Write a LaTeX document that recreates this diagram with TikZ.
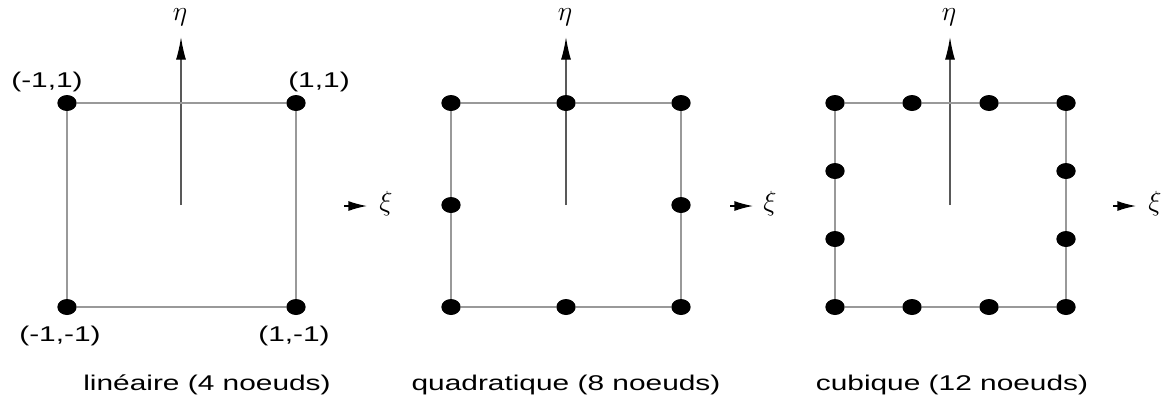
\documentclass[tikz,border=0pt]{standalone}
\usepackage{fontspec}
\setmainfont{Liberation Sans}[FakeStretch=1.4]
\usetikzlibrary{arrows.meta,shapes.geometric}

\begin{document}
\begin{tikzpicture}[x=0.75pt,y=-0.75pt,
  dot/.style={ellipse,fill=black,inner sep=0pt,minimum width=14.5pt,minimum height=12pt},
  edge/.style={gray!80!white,line width=1.8pt},
  axe/.style={gray!70!black,line width=1pt,-{Latex[length=17pt,width=7.5pt,black]}},
  xarr/.style={black,line width=1pt,-{Latex[length=14pt,width=7.5pt]}},
  lab/.style={font=\fontsize{16}{18}\selectfont},
  greek/.style={font=\fontsize{22}{24}\selectfont}]
 \useasboundingbox (0,0) rectangle (1166,400);

 % lineaire
 \coordinate (c1) at (181,205);
 \coordinate (t1) at (181,37);
 \draw[axe] (c1) -- (t1);
 \node[greek] (eta1) at (180,17) {$\eta$};
 \node[dot] (a1) at (67,307) {};
 \node[dot] (a2) at (296,307) {};
 \node[dot] (a3) at (296,103) {};
 \node[dot] (a4) at (67,103) {};
 \draw[edge] (a1) -- (a2) -- (a3) -- (a4) -- (a1);
 \coordinate (xa1) at (344,206);
 \coordinate (xb1) at (367,206);
 \draw[xarr] (xa1) -- (xb1);
 \node[greek] (xi1) at (386,204) {$\xi$};
 \node[lab] (n1) at (47,82) {(-1,1)};
 \node[lab] (n2) at (319,82) {(1,1)};
 \node[lab] (n3) at (60,336) {(-1,-1)};
 \node[lab] (n4) at (294,336) {(1,-1)};
 \node[lab] (cap1) at (207,385) {linéaire (4 noeuds)};

 % quadratique
 \coordinate (c2) at (566,205);
 \coordinate (t2) at (566,37);
 \draw[axe] (c2) -- (t2);
 \node[greek] (eta2) at (565,17) {$\eta$};
 \node[dot] (b1) at (451,307) {};
 \node[dot] (b2) at (566,307) {};
 \node[dot] (b3) at (681,307) {};
 \node[dot] (b4) at (681,205) {};
 \node[dot] (b5) at (681,103) {};
 \node[dot] (b6) at (566,103) {};
 \node[dot] (b7) at (451,103) {};
 \node[dot] (b8) at (451,205) {};
 \draw[edge] (b1) -- (b2) -- (b3) -- (b4) -- (b5) -- (b6) -- (b7) -- (b8) -- (b1);
 \coordinate (xa2) at (730,206);
 \coordinate (xb2) at (753,206);
 \draw[xarr] (xa2) -- (xb2);
 \node[greek] (xi2) at (770,204) {$\xi$};
 \node[lab] (cap2) at (566,385) {quadratique (8 noeuds)};

 % cubique
 \coordinate (c3) at (950,205);
 \coordinate (t3) at (950,37);
 \draw[axe] (c3) -- (t3);
 \node[greek] (eta3) at (949,17) {$\eta$};
 \node[dot] (d1) at (835,307) {};
 \node[dot] (d2) at (912,307) {};
 \node[dot] (d3) at (989,307) {};
 \node[dot] (d4) at (1066,307) {};
 \node[dot] (d5) at (1066,239) {};
 \node[dot] (d6) at (1066,171) {};
 \node[dot] (d7) at (1066,103) {};
 \node[dot] (d8) at (989,103) {};
 \node[dot] (d9) at (912,103) {};
 \node[dot] (d10) at (835,103) {};
 \node[dot] (d11) at (835,171) {};
 \node[dot] (d12) at (835,239) {};
 \draw[edge] (d1) -- (d2) -- (d3) -- (d4) -- (d5) -- (d6) -- (d7) -- (d8) -- (d9) -- (d10) -- (d11) -- (d12) -- (d1);
 \coordinate (xa3) at (1113,206);
 \coordinate (xb3) at (1136,206);
 \draw[xarr] (xa3) -- (xb3);
 \node[greek] (xi3) at (1155,204) {$\xi$};
 \node[lab] (cap3) at (952,385) {cubique (12 noeuds)};
\end{tikzpicture}
\end{document}
